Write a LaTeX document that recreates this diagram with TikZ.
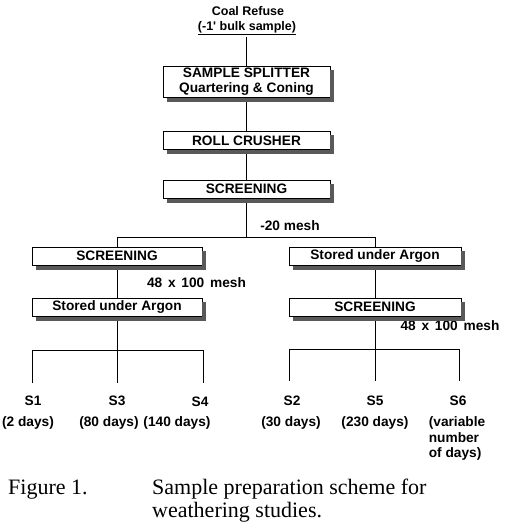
\documentclass[tikz,border=0pt]{standalone}
\usepackage{fontspec}
\setmainfont{Liberation Serif}
\newfontfamily\diagfont{Liberation Sans Bold}
\begin{document}
\begin{tikzpicture}[x=1pt,y=-1pt,
  box/.style={draw, line width=0.7pt, fill=white, minimum height=18pt, inner sep=0pt,
    font=\diagfont\fontsize{13.7}{15}\selectfont},
  lbl/.style={inner sep=0pt, font=\diagfont\fontsize{13.7}{15.5}\selectfont},
  conn/.style={line width=0.8pt},
  shadowline/.style={draw=black!65, line width=4pt, line cap=butt, line join=miter},
  captxt/.style={inner sep=0pt, anchor=base west, font=\fontsize{22}{24}\selectfont}]
\useasboundingbox (0,0) rectangle (505,527);
% header
\node[lbl, font=\diagfont\fontsize{12.5}{14}\selectfont] (coal) at (248,11) {Coal Refuse};
\node[lbl, font=\diagfont\fontsize{12.5}{14}\selectfont] (bulk) at (247,28) {\underline{(-1' bulk sample)}};
% boxes
\node[box, minimum width=167pt, minimum height=31pt, align=center] (split) at (246.5,81.5) {SAMPLE SPLITTER\\Quartering \& Coning};
\node[box, minimum width=167pt] (roll) at (246.5,140.5) {ROLL CRUSHER};
\node[box, minimum width=167pt] (scr) at (246.5,189) {SCREENING};
\node[box, minimum width=170pt] (scrL) at (117,256) {SCREENING};
\node[box, minimum width=170pt] (argL) at (117,307) {Stored under Argon};
\node[box, minimum width=172pt] (argR) at (375,256) {Stored under Argon};
\node[box, minimum width=172pt] (scrR) at (375,307) {SCREENING};
% mesh labels
\node[lbl] (m20) at (290,226) {-20 mesh};
\node[lbl] (m48L) at (196.5,283) {48\hspace{2pt} x\hspace{2pt} 100\hspace{2pt} mesh};
\node[lbl] (m48R) at (450,326) {48\hspace{2pt} x\hspace{2pt} 100\hspace{2pt} mesh};
% sample labels
\node[lbl] (s1) at (33,401) {S1};
\node[lbl] (s3) at (117,401) {S3};
\node[lbl] (s4) at (200,402) {S4};
\node[lbl] (s2) at (292,401) {S2};
\node[lbl] (s5) at (375,401) {S5};
\node[lbl] (s6) at (458,401) {S6};
\node[lbl] (d1) at (28,423) {(2 days)};
\node[lbl] (d3) at (109,423) {(80 days)};
\node[lbl] (d4) at (177,423) {(140 days)};
\node[lbl] (d2) at (291,423) {(30 days)};
\node[lbl] (d5) at (375,423) {(230 days)};
\node[lbl, align=left] (d6) at (457,438.5) {(variable\\number\\of days)};
% caption
\node[captxt] (fig) at (8,494) {Figure 1.};
\node[captxt] (c1) at (152,494) {Sample preparation scheme for};
\node[captxt] (c2) at (152,517) {weathering studies.};
% coordinates
\coordinate (top) at (246.5,37);
\coordinate (jL) at (117,237);
\coordinate (jM) at (246.5,237);
\coordinate (jR) at (375,237);
\coordinate (hL) at (117,350);
\coordinate (aL1) at (32,350);
\coordinate (aL3) at (203,350);
\coordinate (dL1) at (32,383);
\coordinate (dL2) at (117,383);
\coordinate (dL3) at (203,383);
\coordinate (hR) at (375,349);
\coordinate (aR1) at (289,349);
\coordinate (aR3) at (459,349);
\coordinate (dR1) at (289,381);
\coordinate (dR2) at (375,381);
\coordinate (dR3) at (459,381);
% connectors
\draw[conn] (top) -- (split.north);
\draw[conn] (split.south) -- (roll.north);
\draw[conn] (roll.south) -- (scr.north);
\draw[conn] (scr.south) -- (jM);
\draw[conn] (scrL.north) -- (jL) -- (jR) -- (argR.north);
\draw[conn] (scrL.south) -- (argL.north);
\draw[conn] (argL.south) -- (hL);
\draw[conn] (dL1) -- (aL1) -- (aL3) -- (dL3);
\draw[conn] (hL) -- (dL2);
\draw[conn] (argR.south) -- (scrR.north);
\draw[conn] (scrR.south) -- (hR);
\draw[conn] (dR1) -- (aR1) -- (aR3) -- (dR3);
\draw[conn] (hR) -- (dR2);
% shadows as thick strokes along the lower and right edges
\foreach \bx in {split,roll,scr,scrL,argL,argR,scrR}{
  \draw[shadowline] ([xshift=4pt,yshift=-2.4pt]\bx.south west) -- ([xshift=2pt,yshift=-2.4pt]\bx.south east)
     -- ([xshift=2pt,yshift=-4pt]\bx.north east);
}
\end{tikzpicture}
\end{document}
